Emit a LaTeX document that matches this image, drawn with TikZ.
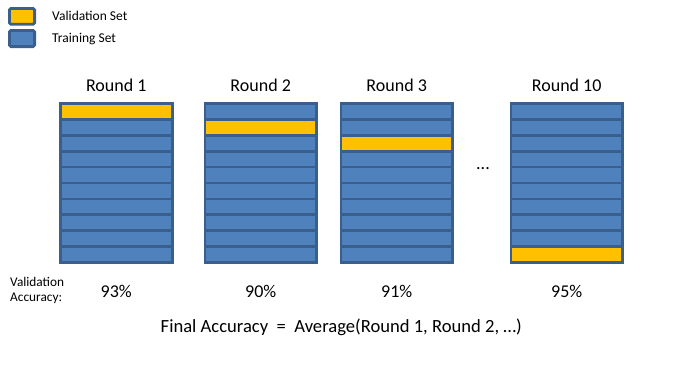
\documentclass[tikz,border=0pt]{standalone}
\usepackage{fontspec}
\setmainfont{Carlito}
\definecolor{valy}{HTML}{FFC000}
\definecolor{trb}{HTML}{4F81BD}
\definecolor{edgeb}{HTML}{3A5F8D}
\begin{document}
\begin{tikzpicture}[x=1pt,y=-1pt,
  strip/.style={draw=edgeb,line width=2.8pt,fill=trb},
  valstrip/.style={draw=edgeb,line width=2.8pt,fill=valy},
  legbox/.style={draw=edgeb,line width=2.8pt,rounded corners=1.5pt},
  legtext/.style={anchor=west,font=\fontsize{13.5}{15}\selectfont,inner sep=0pt},
  roundlbl/.style={font=\fontsize{18}{20}\selectfont,inner sep=0pt},
  acclbl/.style={font=\fontsize{18}{20}\selectfont,inner sep=0pt}]
\useasboundingbox (0,0) rectangle (682,365);
% legend
\draw[legbox,fill=valy] (9.4,8.4) rectangle (34.6,24.2);
\draw[legbox,fill=trb] (9.4,30.4) rectangle (34.6,46.6);
\node[legtext] (lv) at (52,16) {Validation Set};
\node[legtext] (lt) at (52,39) {Training Set};
% columns
\foreach \L/\Y/\n in {59/0/1, 203.5/1/2, 339.5/2/3, 509.5/9/4}{
  \foreach \i in {0,...,9}{
    \pgfmathsetmacro{\ya}{103.4+\i*15.92}
    \pgfmathsetmacro{\yb}{103.4+(\i+1)*15.92}
    \pgfmathsetmacro{\xa}{\L+1.4}
    \pgfmathsetmacro{\xb}{\L+114.5-1.4}
    \ifnum\i=\Y
      \draw[valstrip] (\xa,\ya) rectangle (\xb,\yb);
    \else
      \draw[strip] (\xa,\ya) rectangle (\xb,\yb);
    \fi
  }
}
% labels
\node[roundlbl] (r1) at (116.3,85) {Round 1};
\node[roundlbl] (r2) at (260.7,85) {Round 2};
\node[roundlbl] (r3) at (396.7,85) {Round 3};
\node[roundlbl] (r10) at (566.7,85) {Round 10};
\node[font=\fontsize{18}{20}\selectfont,inner sep=0pt] (dots) at (483,169) {...};
\node[anchor=west,align=left,font=\fontsize{13.3}{14.5}\selectfont,inner sep=0pt] (va) at (10,290.5) {Validation\\Accuracy:};
\node[acclbl] (a1) at (116.3,291) {93\%};
\node[acclbl] (a2) at (260.7,291) {90\%};
\node[acclbl] (a3) at (396.7,291) {91\%};
\node[acclbl] (a4) at (566.7,291) {95\%};
\node[font=\fontsize{18.6}{20}\selectfont,inner sep=0pt] (fa) at (341.3,327) {Final Accuracy~~=~~Average(Round 1, Round 2, …)};
\end{tikzpicture}
\end{document}
